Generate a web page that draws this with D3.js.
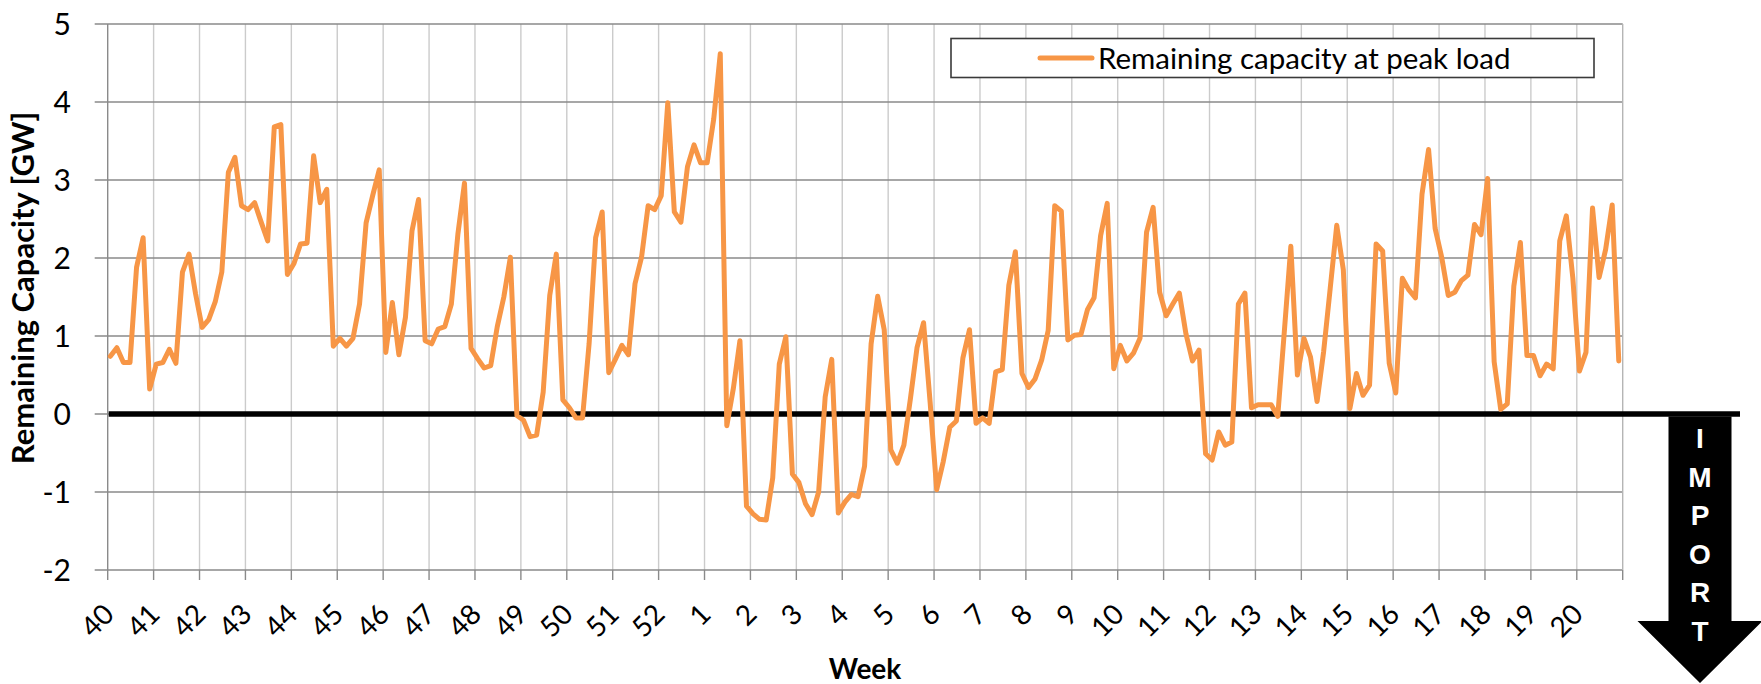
<!DOCTYPE html>
<html>
<head>
<meta charset="utf-8">
<script src="https://cdn.jsdelivr.net/npm/d3@7/dist/d3.min.js"></script>
<style>
  body { margin: 0; background: #fff; }
  svg { display: block; }
  text { font-family: Lato, "Open Sans", sans-serif; fill: #000; }
</style>
</head>
<body>
<div id="chart"></div>
<script>
// week labels along the x axis, one label every 7 daily points
var weekLabels = [40, 41, 42, 43, 44, 45, 46, 47, 48, 49, 50, 51, 52,
                  1, 2, 3, 4, 5, 6, 7, 8, 9, 10, 11, 12, 13, 14, 15, 16, 17, 18, 19, 20];
var yTicks = [-2, -1, 0, 1, 2, 3, 4, 5];
var seriesName = "Remaining capacity at peak load";
var importLetters = ["I", "M", "P", "O", "R", "T"];

// remaining capacity at daily peak load [GW]
var remaining = [
  0.74, 0.85, 0.66, 0.66, 1.88, 2.26, 0.32,
  0.64, 0.66, 0.83, 0.65, 1.82, 2.05, 1.54,
  1.11, 1.21, 1.44, 1.82, 3.10, 3.29, 2.67,
  2.62, 2.71, 2.46, 2.22, 3.68, 3.71, 1.79,
  1.93, 2.18, 2.19, 3.31, 2.71, 2.88, 0.87,
  0.97, 0.87, 0.97, 1.41, 2.45, 2.80, 3.13,
  0.79, 1.43, 0.76, 1.24, 2.35, 2.75, 0.94,
  0.90, 1.09, 1.12, 1.41, 2.31, 2.96, 0.84,
  0.71, 0.59, 0.62, 1.12, 1.50, 2.01, -0.02,
  -0.08, -0.29, -0.27, 0.28, 1.52, 2.05, 0.18,
  0.08, -0.05, -0.05, 0.90, 2.26, 2.59, 0.53,
  0.70, 0.88, 0.76, 1.67, 2.01, 2.67, 2.62,
  2.80, 3.99, 2.59, 2.46, 3.17, 3.45, 3.22,
  3.22, 3.78, 4.62, -0.15, 0.33, 0.94, -1.18,
  -1.28, -1.35, -1.36, -0.82, 0.64, 0.99, -0.77,
  -0.88, -1.15, -1.29, -1.00, 0.22, 0.70, -1.27,
  -1.13, -1.03, -1.06, -0.67, 0.90, 1.51, 1.08,
  -0.46, -0.63, -0.40, 0.20, 0.85, 1.17, 0.15,
  -0.97, -0.61, -0.17, -0.09, 0.72, 1.08, -0.12,
  -0.05, -0.12, 0.54, 0.57, 1.65, 2.08, 0.52,
  0.34, 0.45, 0.69, 1.07, 2.67, 2.60, 0.95,
  1.01, 1.02, 1.34, 1.49, 2.29, 2.70, 0.58,
  0.88, 0.68, 0.78, 0.97, 2.33, 2.65, 1.56,
  1.26, 1.41, 1.55, 1.03, 0.68, 0.82, -0.51,
  -0.59, -0.23, -0.40, -0.36, 1.41, 1.55, 0.08,
  0.12, 0.12, 0.12, -0.03, 1.05, 2.15, 0.50,
  0.97, 0.73, 0.16, 0.80, 1.61, 2.42, 1.85,
  0.07, 0.52, 0.24, 0.37, 2.18, 2.09, 0.65,
  0.27, 1.74, 1.59, 1.49, 2.82, 3.39, 2.38,
  2.01, 1.52, 1.56, 1.71, 1.78, 2.43, 2.30,
  3.02, 0.67, 0.06, 0.13, 1.64, 2.20, 0.75,
  0.75, 0.49, 0.64, 0.58, 2.22, 2.54, 1.74,
  0.55, 0.79, 2.64, 1.75, 2.11, 2.68, 0.68
];

(function() {
"use strict";

var W = 1761, H = 684;
var plotL = 107.7, plotR = 1622.7, plotT = 24, plotB = 570;
var days = 7;
var gridDark = "#8a8a8a", gridLight = "#cbcbcb", orange = "#f79646";

var svg = d3.select("#chart").append("svg")
    .attr("width", W)
    .attr("height", H);

var x = d3.scaleLinear()
    .domain([0, weekLabels.length * days])
    .range([plotL, plotR]);
var y = d3.scaleLinear()
    .domain([d3.min(yTicks), d3.max(yTicks)])
    .range([plotB, plotT]);

var weekTicks = d3.range(weekLabels.length + 1).map(function(k) { return k * days; });

// vertical grid
svg.append("g").selectAll("line")
    .data(weekTicks.slice(1, -1))
    .enter().append("line")
    .attr("x1", function(d) { return x(d); })
    .attr("x2", function(d) { return x(d); })
    .attr("y1", plotT)
    .attr("y2", plotB)
    .attr("stroke", gridLight)
    .attr("stroke-width", 1.4);

// horizontal grid (extends left as the tick marks)
svg.append("g").selectAll("line")
    .data(yTicks)
    .enter().append("line")
    .attr("x1", plotL - 13)
    .attr("x2", plotR)
    .attr("y1", function(d) { return y(d); })
    .attr("y2", function(d) { return y(d); })
    .attr("stroke", gridDark)
    .attr("stroke-width", 1.4);

// left axis line and right border
svg.append("g").selectAll("line")
    .data([0, weekLabels.length * days])
    .enter().append("line")
    .attr("x1", function(d) { return x(d); })
    .attr("x2", function(d) { return x(d); })
    .attr("y1", plotT)
    .attr("y2", plotB)
    .attr("stroke", function(d, i) { return i === 0 ? gridDark : "#b5b5b5"; })
    .attr("stroke-width", 1.4);

// x tick marks
svg.append("g").selectAll("line")
    .data(weekTicks)
    .enter().append("line")
    .attr("x1", function(d) { return x(d); })
    .attr("x2", function(d) { return x(d); })
    .attr("y1", plotB)
    .attr("y2", plotB + 10)
    .attr("stroke", gridDark)
    .attr("stroke-width", 1.4);

// y tick labels
svg.append("g").selectAll("text")
    .data(yTicks)
    .enter().append("text")
    .attr("x", 71)
    .attr("y", function(d) { return y(d); })
    .attr("dy", "0.36em")
    .attr("text-anchor", "end")
    .style("font-size", "30px")
    .text(function(d) { return d; });

// x tick labels, rotated
svg.append("g").selectAll("text")
    .data(weekLabels)
    .enter().append("text")
    .attr("transform", function(d, i) {
        return "translate(" + (x(i * days) + 8) + ",616) rotate(-45)";
    })
    .attr("text-anchor", "end")
    .style("font-size", "28px")
    .text(function(d) { return d; });

// axis titles
svg.append("text")
    .attr("transform", "translate(34,288) rotate(-90)")
    .attr("text-anchor", "middle")
    .style("font-size", "31px")
    .style("font-weight", "bold")
    .text("Remaining Capacity [GW]");

svg.append("text")
    .attr("x", 865)
    .attr("y", 679)
    .attr("text-anchor", "middle")
    .style("font-size", "28px")
    .style("font-weight", "bold")
    .text("Week");

// zero line
svg.append("line")
    .attr("x1", plotL + 1)
    .attr("x2", 1740)
    .attr("y1", y(0))
    .attr("y2", y(0))
    .attr("stroke", "#000")
    .attr("stroke-width", 5.5);

// the series
var line = d3.line()
    .x(function(d, i) { return x(i + 0.4); })
    .y(function(d) { return y(d); });

svg.append("path")
    .datum(remaining)
    .attr("d", line)
    .attr("fill", "none")
    .attr("stroke", orange)
    .attr("stroke-width", 5)
    .attr("stroke-linejoin", "round")
    .attr("stroke-linecap", "round");

// legend
var legend = svg.append("g");
legend.append("rect")
    .attr("x", 951)
    .attr("y", 38.5)
    .attr("width", 643)
    .attr("height", 39)
    .attr("fill", "#fff")
    .attr("stroke", "#3a3a3a")
    .attr("stroke-width", 1.6);
legend.append("line")
    .attr("x1", 1040)
    .attr("x2", 1092)
    .attr("y1", 58)
    .attr("y2", 58)
    .attr("stroke", orange)
    .attr("stroke-width", 5)
    .attr("stroke-linecap", "round");
legend.append("text")
    .attr("x", 1098)
    .attr("y", 68.5)
    .style("font-size", "29.5px")
    .text(seriesName);

// import arrow below the zero line
var ax = 1700, shaftHalf = 31.5, headHalf = 62.5;
var arrowTop = y(0) + 2.5, headTop = 621, tip = 683;
svg.append("path")
    .attr("d", d3.line()([
        [ax - shaftHalf, arrowTop], [ax + shaftHalf, arrowTop],
        [ax + shaftHalf, headTop], [ax + headHalf, headTop],
        [ax, tip], [ax - headHalf, headTop],
        [ax - shaftHalf, headTop]
    ]) + "Z")
    .attr("fill", "#000");

svg.append("g").selectAll("text")
    .data(importLetters)
    .enter().append("text")
    .attr("x", ax)
    .attr("y", function(d, i) { return 448 + i * 38.6; })
    .attr("text-anchor", "middle")
    .style("font-family", "'Liberation Sans', Arial, sans-serif")
    .style("font-size", "28px")
    .style("font-weight", "bold")
    .style("fill", "#fff")
    .text(function(d) { return d; });

})();
</script>
</body>
</html>
